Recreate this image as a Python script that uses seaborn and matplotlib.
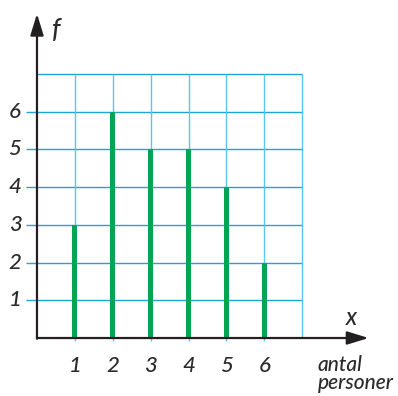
"""
Frequency chart: antal personer vs f
"""

import matplotlib
matplotlib.use("Agg")
import matplotlib.pyplot as plt
import seaborn as sns

persons = [1, 2, 3, 4, 5, 6]
frequency = [3, 6, 5, 5, 4, 2]
y_ticks = [1, 2, 3, 4, 5, 6]

GREEN = "#00a651"
BLUE_H = "#1fa3dc"
BLUE_V = "#58c6ef"
AXIS = "#231f20"
TEXT = "#2a2a2a"

sns.set_style("white")
plt.rcParams["font.family"] = ["Lato", "DejaVu Sans"]

fig = plt.figure(figsize=(3.98, 3.96), dpi=100)
ax = fig.add_axes([0, 0, 1, 1])

sns.barplot(x=persons, y=frequency, native_scale=True, width=0.13,
            color=GREEN, saturation=1, linewidth=0, errorbar=None,
            zorder=3, ax=ax)

# grid
ax.hlines(y_ticks, -0.3, 7, color=BLUE_H, lw=1.0, zorder=1)
ax.hlines([7], 0, 7, color=BLUE_H, lw=1.0, zorder=1)
ax.vlines(persons + [7], 0, 7, color=BLUE_V, lw=1.0, zorder=1)
ax.vlines(persons, -0.08, 0, color=BLUE_V, lw=1.0, zorder=1)

# axes with arrows
head = "-|>,head_length=1.3,head_width=0.4"
ax.annotate("", xy=(8.75, 0), xytext=(0, 0),
            arrowprops=dict(arrowstyle=head, color=AXIS, lw=1.6,
                            shrinkA=0, shrinkB=0), zorder=5)
ax.annotate("", xy=(0, 8.6), xytext=(0, -0.02),
            arrowprops=dict(arrowstyle=head, color=AXIS, lw=1.6,
                            shrinkA=0, shrinkB=0), zorder=5)

font = dict(style="italic", weight="medium", color=TEXT)
for v in y_ticks:
    ax.text(-0.58, v, str(v), ha="center", va="center", fontsize=16, **font)
for p in persons:
    ax.text(p, -0.75, str(p), ha="center", va="center", fontsize=16, **font)

ax.text(0.5, 8.15, "f", ha="center", va="center", fontsize=19, **font)
ax.text(8.3, 0.55, "x", ha="center", va="center", fontsize=17, **font)
ax.text(7.4, -0.45, "antal\npersoner", ha="left", va="top", fontsize=15,
        linespacing=0.85, **font)

ax.set_xlim(-0.976, 9.525)
ax.set_ylim(-1.538, 8.965)
ax.axis("off")

fig.savefig("out.png", dpi=100)
